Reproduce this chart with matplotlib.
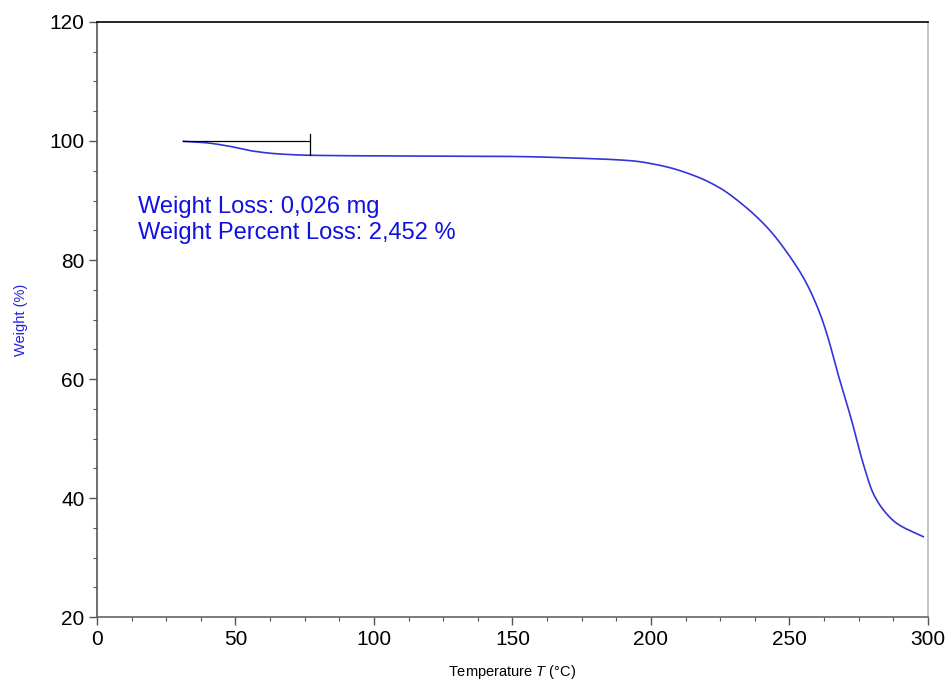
import matplotlib
matplotlib.use("Agg")
import matplotlib.pyplot as plt
import numpy as np
from matplotlib.ticker import MultipleLocator

plt.rcParams['font.family'] = ['Liberation Sans', 'DejaVu Sans']
plt.rcParams['mathtext.fontset'] = 'custom'
plt.rcParams['mathtext.it'] = 'Liberation Sans:italic'
plt.rcParams['mathtext.rm'] = 'Liberation Sans'

# TGA curve
temperature = [31.2, 38.4, 48.0, 56.4, 64.9, 76.9, 100, 130, 150, 174.4, 192.4,
               204.3, 216.6, 224.9, 231.0, 241.9, 251.3, 256.0, 261.0, 264.0, 267.1, 272.4,
               276.6, 280.2, 283.9, 288.7, 298.3]
weight = [99.95, 99.75, 99.1, 98.3, 97.85, 97.6, 97.5, 97.45, 97.4, 97.1, 96.7,
          95.8, 94.0, 92.1, 90.1, 85.5, 79.8, 76.2, 71.0, 66.8, 61.5, 53.1,
          45.8, 40.8, 38.0, 35.75, 33.5]

# step annotation
step_start = 31.2
step_end = 77.0
step_top = 101.1
step_ref = 99.95
step_bottom = 97.6
annotation_lines = ["Weight Loss: 0,026 mg", "Weight Percent Loss: 2,452 %"]

fig = plt.figure(figsize=(9.51, 6.83), dpi=100)
ax = fig.add_axes([0.102, 0.0966, 0.8738, 0.8712])


def pchip(x, y, xn):
    x = np.asarray(x, float); y = np.asarray(y, float)
    h = np.diff(x); d = np.diff(y) / h
    m = np.zeros_like(y)
    for k in range(1, len(x) - 1):
        if d[k-1] * d[k] > 0:
            w1 = 2*h[k] + h[k-1]; w2 = h[k] + 2*h[k-1]
            m[k] = (w1 + w2) / (w1/d[k-1] + w2/d[k])
    m[0] = d[0]; m[-1] = d[-1]
    idx = np.clip(np.searchsorted(x, xn) - 1, 0, len(x) - 2)
    t = (xn - x[idx]) / h[idx]
    h00 = 2*t**3 - 3*t**2 + 1; h10 = t**3 - 2*t**2 + t
    h01 = -2*t**3 + 3*t**2; h11 = t**3 - t**2
    return h00*y[idx] + h10*h[idx]*m[idx] + h01*y[idx+1] + h11*h[idx]*m[idx+1]


xs = np.linspace(temperature[0], temperature[-1], 1000)
ys = pchip(temperature, weight, xs)
ax.plot(xs, ys, color='#3333dd', lw=1.2)

ax.plot([step_start, step_end], [step_ref, step_ref], color='black', lw=0.9)
ax.plot([step_end, step_end], [step_bottom, step_top], color='black', lw=0.9)

ax.text(14.8, 88.9, annotation_lines[0], color='#1010e0', fontsize=17, va='center', ha='left')
ax.text(14.8, 84.6, annotation_lines[1], color='#1010e0', fontsize=17, va='center', ha='left')

ax.set_xlim(0, 300)
ax.set_ylim(20, 120)
ax.xaxis.set_major_locator(MultipleLocator(50))
ax.xaxis.set_minor_locator(MultipleLocator(12.5))
ax.yaxis.set_major_locator(MultipleLocator(20))
ax.yaxis.set_minor_locator(MultipleLocator(5))
ax.tick_params(which='major', length=6, width=1, color='#555555', labelsize=15, pad=3)
ax.tick_params(which='minor', length=3, width=0.8, color='#555555')

ax.spines['top'].set_color('black')
ax.spines['left'].set_color('#555555')
ax.spines['bottom'].set_color('#666666')
ax.spines['right'].set_color('#bbbbbb')
for s in ax.spines.values():
    s.set_linewidth(1.2)

ax.set_xlabel('Temperature $\\mathit{T}$ (°C)', fontsize=10.5)
ax.xaxis.set_label_coords(0.5, -0.077)
ax.set_ylabel('Weight (%)', fontsize=10.5, color='#2222dd')
ax.yaxis.set_label_coords(-0.083, 0.5)

fig.savefig('out.png', dpi=100)
